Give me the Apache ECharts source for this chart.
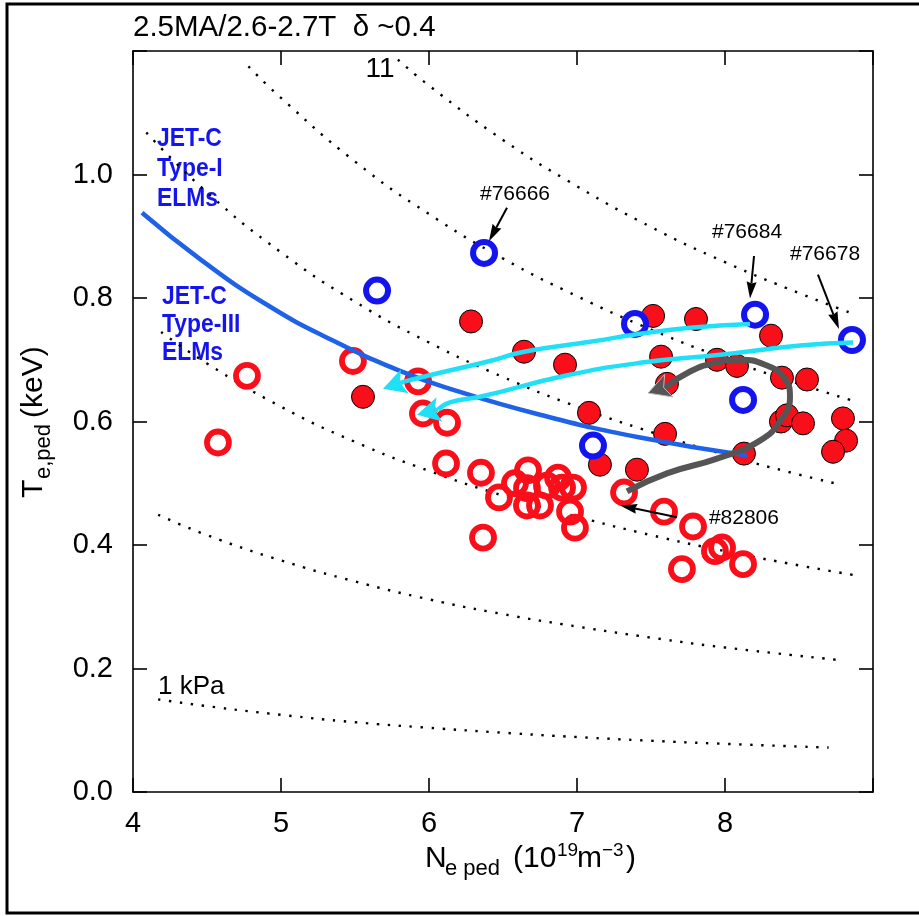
<!DOCTYPE html>
<html><head><meta charset="utf-8">
<script src="https://cdn.jsdelivr.net/npm/echarts@6/dist/echarts.min.js"></script>
<style>html,body{margin:0;padding:0;background:#fff}#c{width:919px;height:916px}</style>
</head><body><div id="c"></div>
<script>
// ---------- data ----------
const xTickLabels = ['4', '5', '6', '7', '8'];
const yTickLabels = ['0.0', '0.2', '0.4', '0.6', '0.8', '1.0'];

// filled red
const redFilled = [
  [5.554, 0.640], [6.284, 0.762], [6.642, 0.713], [6.919, 0.692], [7.081, 0.614],
  [7.155, 0.530], [7.405, 0.522], [7.514, 0.771], [7.804, 0.766], [8.311, 0.739],
  [7.568, 0.705], [7.946, 0.700], [8.081, 0.690], [7.608, 0.661], [8.385, 0.671],
  [8.554, 0.668], [7.595, 0.580], [8.128, 0.548], [8.378, 0.600], [8.419, 0.610],
  [8.527, 0.597], [8.797, 0.605], [8.818, 0.569], [8.730, 0.551]
];
// open red
const redOpen = [
  [4.770, 0.674], [4.574, 0.566], [5.486, 0.698], [5.926, 0.665], [5.959, 0.613],
  [6.122, 0.598], [6.115, 0.532], [6.351, 0.517], [6.473, 0.477], [6.365, 0.412],
  [6.581, 0.500], [6.669, 0.521], [6.662, 0.492], [6.662, 0.464], [6.750, 0.464],
  [6.797, 0.496], [6.872, 0.509], [6.899, 0.493], [6.973, 0.493], [6.953, 0.454],
  [6.986, 0.428], [7.318, 0.485], [7.588, 0.454], [7.784, 0.430], [7.709, 0.361],
  [7.932, 0.390], [7.980, 0.396], [8.122, 0.369]
];
// open blue
const blueOpen = [
  [6.372, 0.873], [5.649, 0.812], [7.392, 0.758], [8.203, 0.773], [8.858, 0.732],
  [8.122, 0.635], [7.108, 0.561]
];
// JET-C boundary curve
const jetcBoundary = [
  [4.061, 0.938], [4.453, 0.863], [4.905, 0.789], [5.351, 0.731], [5.804, 0.682],
  [6.142, 0.653], [6.750, 0.611], [7.426, 0.574], [8.149, 0.545]
];
// cyan trajectories (#76684 upper, #76678 lower)
const cyanUpper = [
  [8.169, 0.758], [7.764, 0.752], [7.426, 0.742], [7.088, 0.729], [6.642, 0.713],
  [6.412, 0.698], [6.074, 0.679], [5.838, 0.665]
];
const cyanUpperTip = [5.689, 0.653];
const cyanLower = [
  [8.865, 0.728], [8.507, 0.723], [7.966, 0.708], [7.426, 0.695], [6.919, 0.674],
  [6.345, 0.640], [6.142, 0.631], [6.061, 0.619]
];
const cyanLowerTip = [5.919, 0.611];
// grey trajectory (#82806)
const greyPath = [
  [7.338, 0.487], [7.608, 0.516], [7.946, 0.540], [8.236, 0.569], [8.385, 0.605],
  [8.439, 0.639], [8.399, 0.671], [8.270, 0.692], [8.101, 0.700], [7.932, 0.695],
  [7.764, 0.681], [7.608, 0.657]
];
const greyTip = [7.480, 0.646];

// isobars (kPa)
const isobar1 = [[4.17, 0.150], [4.5, 0.139], [5, 0.125], [5.5, 0.113], [6, 0.104], [6.5, 0.096], [7, 0.089], [7.5, 0.083], [8, 0.078], [8.7, 0.072]];
const isobar3 = [[4.17, 0.449], [4.5, 0.416], [5, 0.375], [5.5, 0.341], [6, 0.312], [6.5, 0.288], [7, 0.268], [7.5, 0.250], [8, 0.234], [8.8, 0.213]];
const isobar5 = [[4.19, 0.745], [4.5, 0.694], [5, 0.624], [5.5, 0.567], [6, 0.520], [6.5, 0.480], [7, 0.446], [7.5, 0.416], [8, 0.390], [8.5, 0.367], [8.88, 0.351]];
const isobar7 = [[4.09, 1.068], [4.5, 0.971], [5, 0.874], [5.5, 0.794], [6, 0.728], [6.5, 0.672], [7, 0.624], [7.5, 0.583], [8, 0.546], [8.5, 0.514], [8.76, 0.499]];
const isobar9 = [[4.78, 1.175], [5, 1.124], [5.5, 1.021], [6, 0.936], [6.5, 0.864], [7, 0.803], [7.5, 0.749], [8, 0.702], [8.5, 0.661], [8.9, 0.631]];
const isobar11 = [[5.79, 1.186], [6, 1.144], [6.5, 1.056], [7, 0.981], [7.5, 0.915], [8, 0.858], [8.5, 0.808], [8.87, 0.774]];

// shot annotations
const shotLabels = ['#76666', '#76684', '#76678', '#82806'];
const shotLabelAt = [[6.581, 0.968], [8.149, 0.907], [8.676, 0.871], [8.128, 0.443]];
const shotArrows = [
  [6.527, 0.946, 6.405, 0.892],
  [8.196, 0.868, 8.169, 0.799],
  [8.628, 0.838, 8.770, 0.750],
  [7.676, 0.445, 7.291, 0.464]
];
const isobarLabels = ['11', '1 kPa'];
const isobarLabelAt = [[5.669, 1.171], [4.169, 0.171]];

// ---------- styling ----------
const FONT = "'Liberation Sans', Arial, Helvetica, sans-serif";
const RED = '#f80f1a';
const BLUE = '#1414ee';

function arrowItem(color, lineW, headLen, headW, notch, outline) {
  return function (params, api) {
    const a = api.coord([api.value(0), api.value(1)]);
    const b = api.coord([api.value(2), api.value(3)]);
    const dx = b[0] - a[0], dy = b[1] - a[1];
    const L = Math.sqrt(dx * dx + dy * dy) || 1;
    const ux = dx / L, uy = dy / L, nx = -uy, ny = ux;
    const bx = b[0] - ux * headLen, by = b[1] - uy * headLen;
    const mx = b[0] - ux * headLen * notch, my = b[1] - uy * headLen * notch;
    const hw = headW / 2;
    return {
      type: 'group', children: [
        { type: 'line', shape: { x1: a[0], y1: a[1], x2: mx, y2: my }, style: { stroke: color, lineWidth: lineW, lineCap: 'butt' } },
        { type: 'polygon', shape: { points: [[b[0], b[1]], [bx + nx * hw, by + ny * hw], [mx, my], [bx - nx * hw, by - ny * hw]] },
          style: { fill: color, stroke: outline || null, lineWidth: outline ? 1 : 0 } }
      ]
    };
  };
}
function textItem(labels, fontSize, align) {
  return function (params, api) {
    const p = api.coord([api.value(0), api.value(1)]);
    return { type: 'text', x: p[0], y: p[1],
      style: { text: labels[params.dataIndex], font: fontSize + 'px ' + FONT, fill: '#000', align: align, verticalAlign: 'middle' } };
  };
}

const isoStyle = { color: '#000', width: 2.4, type: [2.4, 8.6] };
function isoSeries(d) {
  return { type: 'line', data: d, smooth: true, symbol: 'none', lineStyle: isoStyle, silent: true, z: 1 };
}
function blueText(t, x, y) {
  return { type: 'text', x: x, y: y, scaleX: 0.88, style: { text: t, font: 'bold 26px ' + FONT, fill: BLUE, verticalAlign: 'middle' } };
}
function plainText(t, x, y, size) {
  return { type: 'text', x: x, y: y, style: { text: t, font: size + 'px ' + FONT, fill: '#000', verticalAlign: 'middle' } };
}

const axisLineStyle = { color: '#000', width: 1.6 };
const chart = echarts.init(document.getElementById('c'), null, { renderer: 'canvas' });
chart.setOption({
  animation: false,
  backgroundColor: '#fff',
  grid: { left: 133, right: 46, top: 51, bottom: 124, containLabel: false },
  xAxis: [
    { type: 'value', min: 4, max: 9, interval: 1, position: 'bottom',
      axisLine: { show: true, onZero: false, lineStyle: axisLineStyle },
      axisTick: { show: true, inside: true, length: 14, lineStyle: axisLineStyle },
      axisLabel: { show: true, margin: 17, color: '#000', fontSize: 29, fontFamily: FONT,
        formatter: v => { const i = Math.round(v - 4); return i < xTickLabels.length ? xTickLabels[i] : ''; } },
      splitLine: { show: false } },
    { type: 'value', min: 4, max: 9, interval: 1, position: 'top',
      axisLine: { show: true, onZero: false, lineStyle: axisLineStyle },
      axisTick: { show: true, inside: true, length: 14, lineStyle: axisLineStyle },
      axisLabel: { show: false }, splitLine: { show: false } }
  ],
  yAxis: [
    { type: 'value', min: 0, max: 1.2, interval: 0.2, position: 'left',
      axisLine: { show: true, onZero: false, lineStyle: axisLineStyle },
      axisTick: { show: true, inside: true, length: 14, lineStyle: axisLineStyle },
      axisLabel: { show: true, margin: 20, color: '#000', fontSize: 29, fontFamily: FONT,
        formatter: v => { const i = Math.round(v / 0.2); return i < yTickLabels.length ? yTickLabels[i] : ''; } },
      splitLine: { show: false } },
    { type: 'value', min: 0, max: 1.2, interval: 0.2, position: 'right',
      axisLine: { show: true, onZero: false, lineStyle: axisLineStyle },
      axisTick: { show: true, inside: true, length: 14, lineStyle: axisLineStyle },
      axisLabel: { show: false }, splitLine: { show: false } }
  ],
  series: [
    isoSeries(isobar1), isoSeries(isobar3), isoSeries(isobar5),
    isoSeries(isobar7), isoSeries(isobar9), isoSeries(isobar11),
    { type: 'scatter', data: redFilled, symbol: 'circle', symbolSize: 23, z: 3, silent: true,
      itemStyle: { color: RED, borderColor: '#000', borderWidth: 1, opacity: 1 } },
    { type: 'scatter', data: redOpen, symbol: 'circle', symbolSize: 22, z: 4, silent: true,
      itemStyle: { color: 'rgba(255,255,255,0)', borderColor: RED, borderWidth: 5.8, opacity: 1 } },
    { type: 'scatter', data: blueOpen, symbol: 'circle', symbolSize: 22, z: 5, silent: true,
      itemStyle: { color: 'rgba(255,255,255,0)', borderColor: BLUE, borderWidth: 6, opacity: 1 } },
    { type: 'line', data: jetcBoundary, smooth: true, symbol: 'none', z: 6, silent: true,
      lineStyle: { color: '#1f62e8', width: 4.5 } },
    { type: 'line', data: cyanUpper, smooth: true, symbol: 'none', z: 7, silent: true,
      lineStyle: { color: '#1fe0f6', width: 4.5 } },
    { type: 'line', data: cyanLower, smooth: true, symbol: 'none', z: 7, silent: true,
      lineStyle: { color: '#1fe0f6', width: 4.5 } },
    { type: 'custom', z: 8, silent: true, clip: false,
      data: [cyanUpper[cyanUpper.length - 1].concat(cyanUpperTip), cyanLower[cyanLower.length - 1].concat(cyanLowerTip)],
      encode: { x: [0, 2], y: [1, 3] },
      renderItem: arrowItem('#1fe0f6', 4.5, 23, 25, 0.78) },
    { type: 'line', data: greyPath, smooth: true, symbol: 'none', z: 9, silent: true,
      lineStyle: { color: '#555555', width: 6 } },
    { type: 'custom', z: 10, silent: true, clip: false,
      data: [greyPath[greyPath.length - 1].concat(greyTip)],
      encode: { x: [0, 2], y: [1, 3] },
      renderItem: arrowItem('#555555', 6, 22, 24, 0.75, '#bbbbbb') },
    { type: 'custom', z: 11, silent: true, clip: false, data: shotArrows,
      encode: { x: [0, 2], y: [1, 3] },
      renderItem: arrowItem('#000', 2, 17, 10, 0.9) },
    { type: 'custom', z: 11, silent: true, clip: false, data: shotLabelAt,
      encode: { x: 0, y: 1 }, renderItem: textItem(shotLabels, 21, 'center') },
    { type: 'custom', z: 11, silent: true, clip: false, data: [isobarLabelAt[0]],
      encode: { x: 0, y: 1 }, renderItem: textItem([isobarLabels[0]], 28, 'center') },
    { type: 'custom', z: 11, silent: true, clip: false, data: [isobarLabelAt[1]],
      encode: { x: 0, y: 1 }, renderItem: textItem([isobarLabels[1]], 26, 'left') }
  ],
  graphic: [
    { type: 'rect', shape: { x: 7, y: 4, width: 930, height: 909 }, style: { fill: null, stroke: '#000', lineWidth: 3 }, z: 100, silent: true },
    plainText('2.5MA/2.6-2.7T  δ ~0.4', 133, 28, 29.5),
    blueText('JET-C', 157, 139), blueText('Type-I', 157, 169), blueText('ELMs', 157, 199),
    blueText('JET-C', 162, 297), blueText('Type-III', 162, 325), blueText('ELMs', 162, 353),
    // x axis name
    plainText('N', 425, 859, 30),
    plainText('e ped', 445, 869, 22),
    plainText('(10', 513, 859, 30),
    plainText('19', 557, 851, 19),
    plainText('m', 577, 859, 30),
    plainText('−3', 602, 851, 19),
    plainText(')', 626, 859, 30),
    // y axis name
    { type: 'group', x: 34, y: 498, rotation: Math.PI / 2, children: [
      plainText('T', 0, 0, 30),
      plainText('e,ped', 19, 10, 22),
      plainText('(keV)', 80, 0, 30)
    ] }
  ]
});
</script></body></html>
